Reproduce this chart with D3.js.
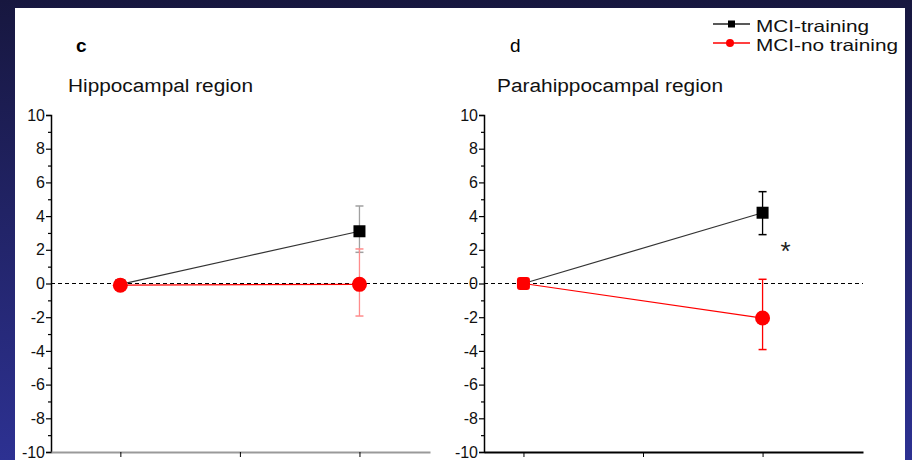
<!DOCTYPE html>
<html><head><meta charset="utf-8">
<script src="https://cdn.jsdelivr.net/npm/d3@7"></script>
<style>html,body{margin:0;padding:0;background:#1a1a48;}svg{display:block;}</style>
</head><body>
<svg id="chart" width="912" height="460"></svg>
<script>
// ---- data ----
const xTickValues = [0, 1, 2];
const timeIndex = [0, 2];
const yMajorTicks = [-10, -8, -6, -4, -2, 0, 2, 4, 6, 8, 10];
const yMinorTicks = [-9, -7, -5, -3, -1, 1, 3, 5, 7, 9];
const seriesNames = ["MCI-training", "MCI-no training"];
const panelLetters = ["c", "d"];
const panelTitles = ["Hippocampal region", "Parahippocampal region"];
// Hippocampal
const hippoTraining = [-0.05, 3.1];
const hippoTrainingUpper = [null, 4.6];
const hippoTrainingLower = [null, 1.85];
const hippoNoTraining = [-0.1, -0.05];
const hippoNoTrainingUpper = [null, 2.05];
const hippoNoTrainingLower = [null, -1.93];
// Parahippocampal
const paraTraining = [0, 4.2];
const paraTrainingUpper = [null, 5.45];
const paraTrainingLower = [null, 2.9];
const paraNoTraining = [0, -2.05];
const paraNoTrainingUpper = [null, 0.25];
const paraNoTrainingLower = [null, -3.92];

const svg = d3.select("#chart");
const FONT = "'Liberation Sans', Arial, Helvetica, sans-serif";

// background
const defs = svg.append("defs");
const g = defs.append("linearGradient").attr("id","bg").attr("x1",0).attr("y1",0).attr("x2",0).attr("y2",1);
g.append("stop").attr("offset","0%").attr("stop-color","#17173f");
g.append("stop").attr("offset","100%").attr("stop-color","#2d3192");
svg.append("rect").attr("width",912).attr("height",460).attr("fill","url(#bg)");
svg.append("rect").attr("x",15).attr("y",8).attr("width",890).attr("height",452).attr("fill","#fff");

const y = d3.scaleLinear().domain([-10, 10]).range([452, 115]);

const panels = [
  {x0: 51, x1: 430, dmin: -0.58, dmax: 2.59, dashEnd: 478, letterX: 76, titleX: 68, titleLen: 185,
   tr: hippoTraining, trU: hippoTrainingUpper, trL: hippoTrainingLower,
   nt: hippoNoTraining, ntU: hippoNoTrainingUpper, ntL: hippoNoTrainingLower,
   errBlack: "#a0a0a0", errRed: "#ff8c8c", xAxisColor: "#9a9a9a", star: false, startSquare: false},
  {x0: 484, x1: 863, dmin: -0.33, dmax: 2.84, dashEnd: 863, letterX: 510, titleX: 497, titleLen: 226,
   tr: paraTraining, trU: paraTrainingUpper, trL: paraTrainingLower,
   nt: paraNoTraining, ntU: paraNoTrainingUpper, ntL: paraNoTrainingLower,
   errBlack: "#000", errRed: "#ff0000", xAxisColor: "#000", star: true, startSquare: true}
];

panels.forEach((p, i) => {
  const x = d3.scaleLinear().domain([p.dmin, p.dmax]).range([p.x0, p.x1]);
  const gp = svg.append("g");

  // letters and titles
  gp.append("text").attr("x", p.letterX).attr("y", 52).text(panelLetters[i])
    .attr("font-family", FONT).attr("font-size", 19).attr("font-weight", i===0 ? "bold" : "normal").attr("fill", "#000");
  gp.append("text").attr("x", p.titleX).attr("y", 92).text(panelTitles[i])
    .attr("font-family", FONT).attr("font-size", 18).attr("fill", "#111")
    .attr("textLength", p.titleLen).attr("lengthAdjust", "spacingAndGlyphs");

  // zero dashed line
  gp.append("line").attr("x1", p.x0).attr("x2", p.dashEnd).attr("y1", y(0)).attr("y2", y(0))
    .attr("stroke", "#000").attr("stroke-width", 1.2).attr("stroke-dasharray", "4,3");

  // y axis
  const yAxis = d3.axisLeft(y).tickValues(yMajorTicks).tickSize(5).tickPadding(1).tickFormat(d => String(d));
  const ya = gp.append("g").attr("transform", `translate(${p.x0},0)`).call(yAxis);
  ya.select(".domain").attr("stroke", "#000").attr("stroke-width", 1.5);
  ya.selectAll(".tick line").attr("stroke", "#000").attr("stroke-width", 1.2);
  ya.selectAll(".tick text").attr("font-family", FONT).attr("font-size", 16).attr("fill", "#111");
  const yMinor = d3.axisLeft(y).tickValues(yMinorTicks).tickSize(3).tickFormat("");
  const ym = gp.append("g").attr("transform", `translate(${p.x0},0)`).call(yMinor);
  ym.select(".domain").remove();
  ym.selectAll(".tick line").attr("stroke", "#000").attr("stroke-width", 1.2);

  // x axis
  const xAxis = d3.axisBottom(x).tickValues(xTickValues).tickSize(5).tickSizeOuter(0).tickFormat("");
  const xa = gp.append("g").attr("transform", `translate(0,${y(-10)})`).call(xAxis);
  xa.select(".domain").attr("stroke", p.xAxisColor).attr("stroke-width", 2);
  xa.selectAll(".tick line").attr("stroke", "#000").attr("stroke-width", 1);

  // lines
  const line = d3.line().x((d, j) => x(timeIndex[j])).y(d => y(d));
  gp.append("path").attr("d", line(p.tr)).attr("fill", "none").attr("stroke", "#333").attr("stroke-width", 1.2);
  gp.append("path").attr("d", line(p.nt)).attr("fill", "none").attr("stroke", "#ff0000").attr("stroke-width", 1.2);

  // error bars
  function errBars(vals, up, lo, color) {
    vals.forEach((v, j) => {
      if (up[j] == null) return;
      const cx = x(timeIndex[j]);
      gp.append("line").attr("x1", cx).attr("x2", cx).attr("y1", y(up[j])).attr("y2", y(lo[j]))
        .attr("stroke", color).attr("stroke-width", 1.3);
      [up[j], lo[j]].forEach(e => {
        gp.append("line").attr("x1", cx - 4).attr("x2", cx + 4).attr("y1", y(e)).attr("y2", y(e))
          .attr("stroke", color).attr("stroke-width", 1.5);
      });
    });
  }
  errBars(p.tr, p.trU, p.trL, p.errBlack);
  errBars(p.nt, p.ntU, p.ntL, p.errRed);

  // markers
  p.tr.forEach((v, j) => {
    const s = j === 0 ? 10 : 12;
    gp.append("rect").attr("x", x(timeIndex[j]) - s/2).attr("y", y(v) - s/2).attr("width", s).attr("height", s).attr("fill", "#000");
  });
  p.nt.forEach((v, j) => {
    if (j === 0 && p.startSquare) {
      gp.append("rect").attr("x", x(timeIndex[j]) - 6.5).attr("y", y(v) - 6.5).attr("width", 13).attr("height", 13)
        .attr("rx", 3).attr("fill", "#ff0000");
    } else {
      gp.append("circle").attr("cx", x(timeIndex[j])).attr("cy", y(v)).attr("r", 7.5).attr("fill", "#ff0000");
    }
  });

  if (p.star) {
    gp.append("text").attr("x", x(timeIndex[1]) + 23).attr("y", y(p.tr[1]) + 47).text("*")
      .attr("text-anchor", "middle").attr("font-family", FONT).attr("font-size", 26).attr("fill", "#222");
  }
});

// legend
const legend = svg.append("g");
const legendLens = [113, 142];
seriesNames.forEach((name, i) => {
  const ly = 24 + i * 19;
  legend.append("line").attr("x1", 713).attr("x2", 750).attr("y1", ly).attr("y2", ly)
    .attr("stroke", i === 0 ? "#222" : "#ff0000").attr("stroke-width", 1.3);
  if (i === 0) legend.append("rect").attr("x", 728).attr("y", ly - 3.5).attr("width", 7).attr("height", 7).attr("fill", "#000");
  else legend.append("circle").attr("cx", 730).attr("cy", ly).attr("r", 4).attr("fill", "#ff0000");
  legend.append("text").attr("x", 756).attr("y", 32 + i * 19).text(name)
    .attr("font-family", FONT).attr("font-size", 16.5).attr("fill", "#111")
    .attr("textLength", legendLens[i]).attr("lengthAdjust", "spacingAndGlyphs");
});
</script>
</body></html>
